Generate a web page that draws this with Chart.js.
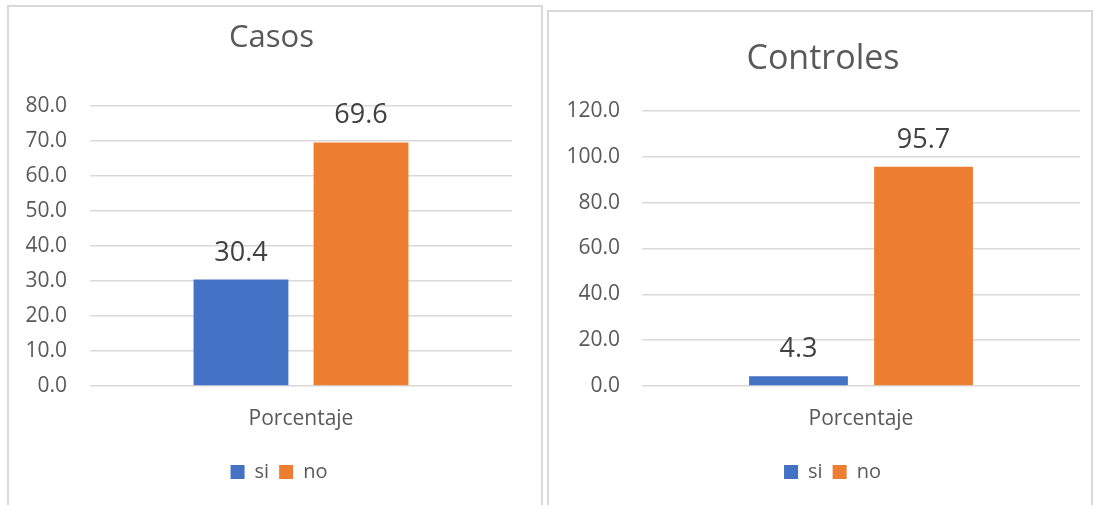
<!DOCTYPE html>
<html>
<head>
<meta charset="utf-8">
<script src="https://cdn.jsdelivr.net/npm/chart.js@4.4.1/dist/chart.umd.min.js"></script>
<style>
  body { margin: 0; background: #fff; width: 1099px; height: 505px; overflow: hidden; position: relative; }
  .panel { position: absolute; border: 2px solid #d9d9d9; box-sizing: border-box; }
  #p1 { left: 7px; top: 5px; width: 536px; height: 520px; }
  #p2 { left: 547px; top: 10px; width: 546px; height: 520px; }
  canvas { position: absolute; top: 0; }
  #casos { left: 0; }
  #controles { left: 545px; }
</style>
</head>
<body>
<div class="panel" id="p1"></div>
<div class="panel" id="p2"></div>
<canvas id="casos" width="545" height="505"></canvas>
<canvas id="controles" width="554" height="505"></canvas>
<script>
  const categories = ['Porcentaje'];
  const seriesNames = ['si', 'no'];
  const casosValues = [30.4, 69.6];
  const controlesValues = [4.3, 95.7];
  const casosTicks = [0, 10, 20, 30, 40, 50, 60, 70, 80];
  const controlesTicks = [0, 20, 40, 60, 80, 100, 120];

  const seriesColors = ['#4472C4', '#ED7D31'];

  Chart.defaults.font.family = '"Open Sans", sans-serif';
  Chart.defaults.color = '#595959';

  // value above each bar, like the Excel data labels
  const valueLabels = {
    id: 'valueLabels',
    afterDatasetsDraw(chart) {
      const ctx = chart.ctx;
      ctx.save();
      ctx.font = '27px "Open Sans", sans-serif';
      ctx.fillStyle = '#404040';
      ctx.textAlign = 'center';
      ctx.textBaseline = 'alphabetic';
      chart.data.datasets.forEach((ds, i) => {
        chart.getDatasetMeta(i).data.forEach((bar, j) => {
          ctx.fillText(ds.data[j].toFixed(1), bar.x, bar.y - 19);
        });
      });
      ctx.restore();
    }
  };

  // title and legend are centred on the panel, not on the plot area
  const shiftBlocks = {
    id: 'shiftBlocks',
    afterLayout(chart, args, opts) {
      if (chart.titleBlock) {
        chart.titleBlock.left += opts.title;
        chart.titleBlock.right += opts.title;
      }
      if (chart.legend) {
        chart.legend.left += opts.legend;
        chart.legend.right += opts.legend;
      }
    }
  };

  function makeChart(id, title, values, ticks, opt) {
    return new Chart(document.getElementById(id), {
      type: 'bar',
      data: {
        labels: categories,
        datasets: seriesNames.map((name, i) => ({
          label: name,
          data: [values[i]],
          backgroundColor: seriesColors[i],
          categoryPercentage: opt.catPct,
          barPercentage: 0.79
        }))
      },
      options: {
        responsive: false,
        animation: false,
        layout: { padding: { left: 0, right: opt.padR, top: 0, bottom: 13 } },
        plugins: {
          title: {
            display: true,
            text: title,
            color: '#595959',
            font: { size: opt.titleSize, weight: 'normal' },
            padding: { top: opt.titleTop, bottom: opt.titleBottom }
          },
          legend: {
            position: 'bottom',
            labels: { boxWidth: 14, boxHeight: 14, padding: 10, color: '#595959', font: { size: 20 } }
          },
          tooltip: { enabled: false },
          shiftBlocks: { title: opt.titleShift, legend: opt.legendShift }
        },
        scales: {
          x: {
            grid: { display: false, drawTicks: false },
            border: { display: false },
            ticks: { padding: 20, color: '#595959', font: { size: 21 } },
            afterFit(scale) { scale.height = 66; }
          },
          y: {
            min: ticks[0],
            max: ticks[ticks.length - 1],
            grid: { color: '#d9d9d9', lineWidth: 1.5, drawTicks: false },
            border: { display: false },
            ticks: {
              stepSize: ticks[1] - ticks[0],
              padding: opt.yPad,
              color: '#595959',
              font: { size: 21 },
              callback: v => v.toFixed(1)
            },
            afterFit(scale) { scale.width = opt.yWidth; }
          }
        }
      },
      plugins: [valueLabels, shiftBlocks]
    });
  }

  makeChart('casos', 'Casos', casosValues, casosTicks, {
    padR: 33, yWidth: 90, yPad: 23,
    titleSize: 31, titleTop: 19.5, titleBottom: 49.3, catPct: 0.569,
    titleShift: 15.5, legendShift: 23
  });
  makeChart('controles', 'Controles', controlesValues, controlesTicks, {
    padR: 19, yWidth: 97, yPad: 22,
    titleSize: 34, titleTop: 38.6, titleBottom: 31.6, catPct: 0.571,
    titleShift: 10.5, legendShift: 20
  });
</script>
</body>
</html>
